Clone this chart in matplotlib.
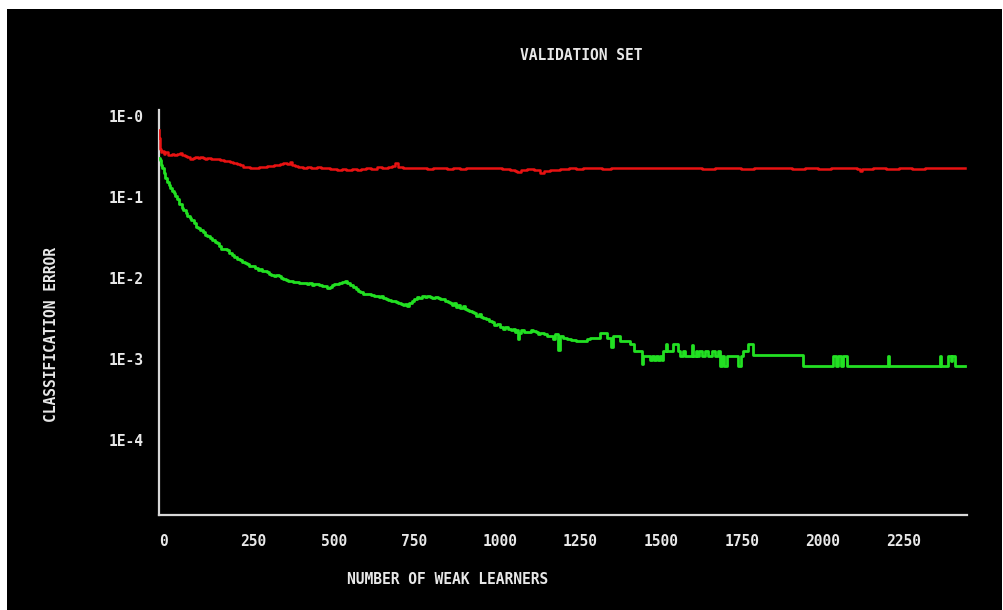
import matplotlib
matplotlib.use("Agg")
import matplotlib.pyplot as plt
from matplotlib.patches import Rectangle

# ---- data ----
x_ticks = [0, 250, 500, 750, 1000, 1250, 1500, 1750, 2000, 2250]
x_tick_labels = ["0", "250", "500", "750", "1000", "1250", "1500", "1750", "2000", "2250"]
y_ticks = [1e0, 1e-1, 1e-2, 1e-3, 1e-4]
y_tick_labels = ["1E-0", "1E-1", "1E-2", "1E-3", "1E-4"]

red_n = [0, 1, 2, 5, 10, 15, 20, 27, 34, 40, 47, 55, 65, 72, 80, 88, 96, 104, 112, 120,
         127, 135, 143, 150, 160, 170, 179, 190, 200, 210, 220, 230, 240, 251, 260, 270,
         282, 292, 300, 310, 322, 333, 345, 355, 365, 375, 384, 395, 405, 412, 420, 430,
         446, 458, 470, 488, 500, 515, 530, 550, 565, 580, 597, 612, 625, 640, 655, 674,
         690, 710, 720, 730, 740, 756, 770, 790, 810, 830, 849, 870, 890, 910, 930, 950,
         975, 1003, 1030, 1060, 1086, 1100, 1107, 1120, 1140, 1160, 1179, 1190, 1210,
         1240, 1270, 1290, 1313, 1340, 1370, 1400, 1430, 1460, 1490, 1519, 1560, 1600,
         1640, 1680, 1720, 1760, 1800, 1840, 1880, 1920, 1960, 2000, 2040, 2080, 2120,
         2160, 2169, 2175, 2210, 2250, 2290, 2330, 2370, 2410, 2450, 2494]
red_err = [0.56, 0.45, 0.33, 0.30, 0.31, 0.29, 0.30, 0.28, 0.277, 0.285, 0.28, 0.29, 0.291,
           0.28, 0.27, 0.26, 0.245, 0.255, 0.26, 0.258, 0.264, 0.255, 0.25, 0.255, 0.25,
           0.245, 0.245, 0.24, 0.235, 0.232, 0.229, 0.222, 0.213, 0.207, 0.2, 0.196, 0.19,
           0.195, 0.192, 0.2, 0.198, 0.203, 0.205, 0.21, 0.208, 0.215, 0.219, 0.214, 0.229,
           0.21, 0.205, 0.2, 0.19, 0.196, 0.193, 0.198, 0.192, 0.195, 0.186, 0.181, 0.185,
           0.18, 0.186, 0.181, 0.185, 0.19, 0.188, 0.198, 0.193, 0.196, 0.205, 0.223, 0.2,
           0.19, 0.193, 0.19, 0.192, 0.188, 0.19, 0.192, 0.189, 0.191, 0.188, 0.192, 0.19,
           0.19, 0.192, 0.189, 0.184, 0.176, 0.172, 0.183, 0.186, 0.18, 0.168, 0.178, 0.184,
           0.188, 0.19, 0.187, 0.19, 0.192, 0.189, 0.191, 0.19, 0.193, 0.19, 0.193, 0.191,
           0.19, 0.192, 0.189, 0.191, 0.19, 0.188, 0.192, 0.19, 0.191, 0.189, 0.19, 0.188,
           0.191, 0.19, 0.189, 0.175, 0.188, 0.19, 0.188, 0.19, 0.189, 0.191, 0.192, 0.193,
           0.19]

green_n = [0, 3, 6, 10, 15, 20, 25, 30, 35, 40, 45, 50, 57, 63, 70, 75, 82, 88, 95, 100,
           107, 113, 120, 127, 135, 142, 150, 157, 165, 172, 178, 186, 193, 200, 210, 218,
           225, 233, 240, 250, 258, 265, 272, 280, 290, 298, 305, 313, 320, 333, 340, 348,
           355, 362, 370, 378, 385, 392, 400, 408, 415, 425, 432, 440, 450, 458, 465, 472,
           480, 488, 495, 503, 510, 520, 528, 535, 543, 550, 558, 565, 575, 583, 590, 600,
           608, 615, 622, 632, 640, 648, 655, 665, 673, 680, 687, 694, 702, 710, 718, 725,
           733, 740, 748, 755, 762, 767, 775, 782, 790, 798, 806, 815, 822, 830, 838, 846,
           854, 862, 870, 878, 886, 893, 900, 906, 912, 918, 925, 932, 940, 947, 953, 960,
           968, 975, 982, 990, 997, 1004, 1012, 1020, 1030, 1038, 1046, 1056, 1064, 1072,
           1080, 1088, 1095, 1102, 1108, 1112, 1115, 1120, 1130, 1140, 1150, 1158, 1165,
           1172, 1180, 1190, 1200, 1210, 1218, 1225, 1234, 1240, 1250, 1263, 1275, 1290,
           1313, 1325, 1334, 1364, 1386, 1400, 1404, 1426, 1457, 1470, 1494, 1497, 1519,
           1525, 1531, 1537, 1543, 1550, 1556, 1559, 1568, 1572, 1590, 1606, 1612, 1620,
           1628, 1643, 1650, 1652, 1660, 1666, 1672, 1680, 1690, 1700, 1710, 1720, 1730,
           1736, 1742, 1748, 1757, 1767, 1790, 1800, 1807, 1822, 1838, 1993, 2085, 2095,
           2100, 2110, 2115, 2129, 2256, 2259, 2416, 2419, 2441, 2450, 2455, 2463, 2494]
green_err = [0.255, 0.24, 0.21, 0.19, 0.165, 0.145, 0.13, 0.118, 0.11, 0.1, 0.094, 0.086,
             0.079, 0.07, 0.062, 0.058, 0.053, 0.049, 0.046, 0.0435, 0.04, 0.036, 0.0345,
             0.0327, 0.031, 0.029, 0.0276, 0.026, 0.0245, 0.0235, 0.0226, 0.021, 0.0195,
             0.019, 0.0185, 0.017, 0.0162, 0.0155, 0.0145, 0.0139, 0.0132, 0.0128, 0.0125,
             0.012, 0.0117, 0.0112, 0.0105, 0.0108, 0.0102, 0.0100, 0.0095, 0.0093, 0.0090,
             0.0091, 0.0088, 0.0084, 0.0082, 0.0080, 0.0078, 0.0077, 0.0075, 0.0076, 0.0073,
             0.0074, 0.0074, 0.0071, 0.0073, 0.0070, 0.0072, 0.0072, 0.0069, 0.0067, 0.0068,
             0.0064, 0.0066, 0.0069, 0.0071, 0.0072, 0.0074, 0.0076, 0.0077, 0.0074, 0.0070,
             0.0065, 0.0062, 0.0059, 0.0057, 0.0054, 0.0053, 0.0054, 0.0052, 0.0051, 0.0050,
             0.0049, 0.0050, 0.0048, 0.0047, 0.0045, 0.0044, 0.0044, 0.0043, 0.0042, 0.0040,
             0.0039, 0.0040, 0.0038, 0.0041, 0.0044, 0.0047, 0.0049, 0.0048, 0.0050, 0.0049,
             0.0050, 0.0049, 0.0048, 0.0049, 0.0048, 0.0047, 0.0046, 0.0044, 0.0043, 0.0042,
             0.0039, 0.0041, 0.0037, 0.0039, 0.0036, 0.0038, 0.0035, 0.0034, 0.0033, 0.0032,
             0.0031, 0.0029, 0.0030, 0.0028, 0.0027, 0.0026, 0.0025, 0.0024, 0.0022, 0.0023,
             0.0021, 0.0020, 0.0021, 0.0020, 0.0019, 0.0020, 0.0018, 0.0019, 0.0015, 0.00175,
             0.0019, 0.00184, 0.0018, 0.0019, 0.00189, 0.0018, 0.0017, 0.00175, 0.0017,
             0.0016, 0.00164, 0.0015, 0.0017, 0.0011, 0.0016, 0.00155, 0.0015, 0.00145,
             0.00142, 0.00142, 0.0015, 0.00154, 0.00175, 0.00155, 0.00117, 0.00164, 0.00142,
             0.00131, 0.00107, 0.00074, 0.00093, 0.00081, 0.00093, 0.00081, 0.00093,
             0.00081, 0.00093, 0.00081, 0.00107, 0.00131, 0.00107, 0.00131, 0.00107,
             0.00093, 0.00107, 0.00093, 0.00093, 0.00125, 0.00093, 0.00107, 0.00093,
             0.00107, 0.00093, 0.00107, 0.00093, 0.00107, 0.00093, 0.00107, 0.0007, 0.00093,
             0.0007, 0.00093, 0.00093, 0.0007, 0.00093, 0.00107, 0.00131, 0.00095, 0.0007,
             0.00093, 0.0007, 0.00093, 0.0007, 0.00093, 0.0007, 0.00093, 0.0007, 0.00093,
             0.0007, 0.00093, 0.0008, 0.00093, 0.0007, 0.0007]

title = "VALIDATION SET"
x_label = "NUMBER OF WEAK LEARNERS"
y_label = "CLASSIFICATION ERROR"

# ---- figure ----
W, H = 1004, 610
fig = plt.figure(figsize=(W / 100, H / 100), dpi=100, facecolor="white")
fig.patches.append(Rectangle((7 / W, 0), (1002 - 7) / W, (H - 9) / H,
                             transform=fig.transFigure, facecolor="black",
                             edgecolor="none", zorder=-10))

left, right, top, bottom = 159, 967, 110, 515
ax = fig.add_axes([left / W, 1 - bottom / H, (right - left) / W, (bottom - top) / H])
ax.set_facecolor("black")
ax.patch.set_alpha(0)

ax.plot(red_n, red_err, color="#e81212", lw=1.8, drawstyle="steps-post", zorder=3)
ax.plot(green_n, green_err, color="#22e022", lw=2.0, drawstyle="steps-post", zorder=3)

ax.set_yscale("log")
ax.set_xlim(0, 2500)
ax.set_ylim(1e-5, 1e0)
ax.minorticks_off()

font = dict(family="DejaVu Sans Mono", size=10.5, weight="bold", color="#e8e8e8")

ax.set_xticks(x_ticks)
ax.set_xticklabels(x_tick_labels, ha="left", **font)
ax.set_yticks(y_ticks)
ax.set_yticklabels(y_tick_labels, va="top", **font)
ax.tick_params(axis="x", length=0, pad=14)
ax.tick_params(axis="y", length=0, pad=11)

for side in ("top", "right"):
    ax.spines[side].set_visible(False)
for side in ("left", "bottom"):
    ax.spines[side].set_color("#d8d8d8")
    ax.spines[side].set_linewidth(1.6)

fig.text(581 / W, 1 - 55 / H, title, ha="center", va="center", **font)
fig.text(448 / W, 1 - 579 / H, x_label, ha="center", va="center", **font)
fig.text(52 / W, 1 - 334 / H, y_label, ha="center", va="center", rotation=90, **font)

fig.savefig("out.png", dpi=100, facecolor=fig.get_facecolor())
